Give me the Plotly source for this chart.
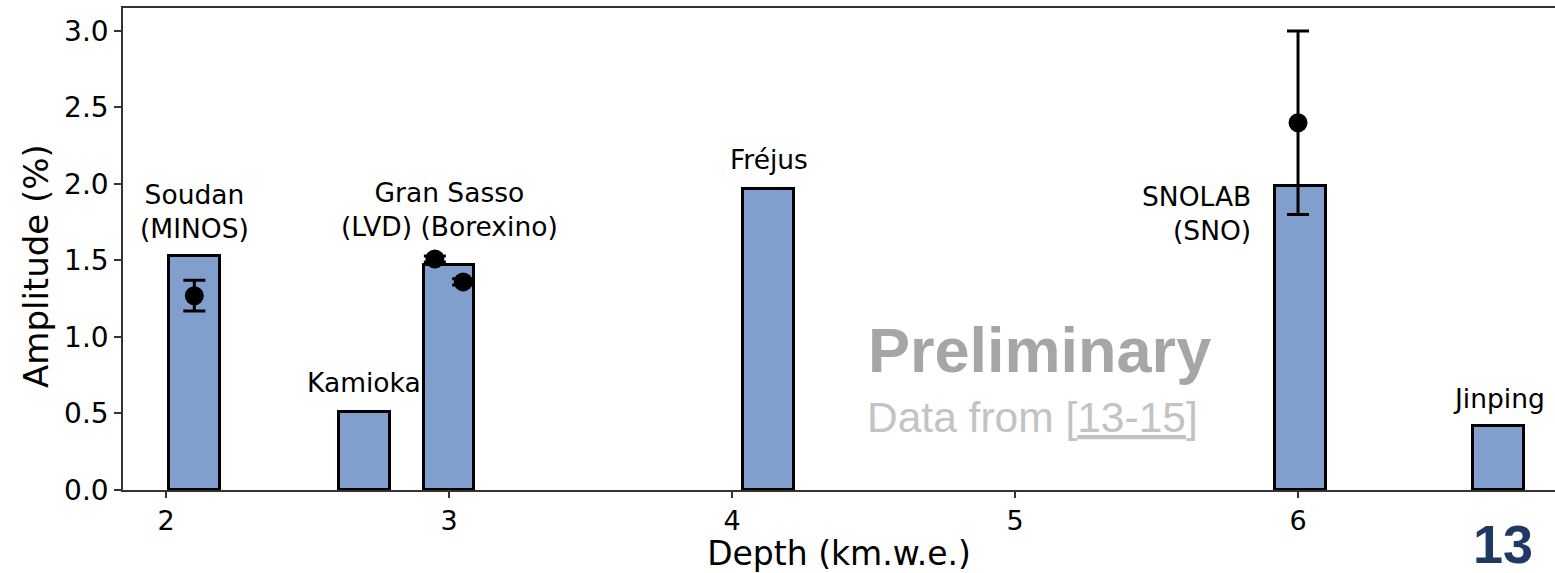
import plotly.graph_objects as go

# Bars: site depth (km.w.e.) and amplitude (%)
sites = ["Soudan", "Kamioka", "Gran Sasso", "Fréjus", "SNOLAB", "Jinping"]
site_depth = [2.10, 2.70, 3.00, 4.13, 6.01, 6.71]
site_amp = [1.53, 0.51, 1.47, 1.97, 1.99, 0.42]

# Measurements with error bars
meas_names = ["MINOS", "LVD", "Borexino", "SNO"]
meas_depth = [2.10, 2.95, 3.05, 6.00]
meas_amp = [1.27, 1.51, 1.36, 2.40]
meas_err = [0.10, 0.02, 0.02, 0.60]

x_ticks = [2, 3, 4, 5, 6]
y_ticks = [0.0, 0.5, 1.0, 1.5, 2.0, 2.5, 3.0]
y_tick_text = ["0.0", "0.5", "1.0", "1.5", "2.0", "2.5", "3.0"]

# Labels: text, anchor x, centre y
label_text = ["Soudan<br>(MINOS)", "Kamioka", "Gran Sasso<br>(LVD) (Borexino)",
              "Fréjus", "SNOLAB<br>(SNO)", "Jinping"]
label_x = [2.10, 2.70, 3.00, 4.13, 5.84, 6.71]
label_y = [1.82, 0.70, 1.83, 2.16, 1.81, 0.60]

FONT = "DejaVu Sans"

fig = go.Figure()
fig.add_trace(go.Bar(
    x=site_depth, y=site_amp, width=0.18,
    marker=dict(color="#819fcd", line=dict(color="black", width=3)),
    showlegend=False, hoverinfo="x+y",
))
fig.add_trace(go.Scatter(
    x=meas_depth, y=meas_amp, mode="markers",
    marker=dict(color="black", size=19),
    error_y=dict(type="data", array=meas_err, visible=True,
                 color="black", thickness=3, width=11),
    showlegend=False,
))

for i, (t, x, y) in enumerate(zip(label_text, label_x, label_y)):
    right = (i == 4)
    fig.add_annotation(x=x, y=y, text=t, showarrow=False,
                       xanchor="right" if right else "center",
                       yanchor="middle", align="right" if right else "center",
                       font=dict(family=FONT, size=26.5, color="black"))

W, H = 1555, 573
ml, mt, mb = 123, 8, 83
pw, ph = W - ml, H - mt - mb


def px(x, y):
    return (x - ml) / pw, (H - mb - y) / ph


def add_px_text(x, y, text, font, angle=0):
    xp, yp = px(x, y)
    fig.add_annotation(x=xp, y=yp, xref="paper", yref="paper", text=text,
                       showarrow=False, xanchor="center", yanchor="middle",
                       textangle=angle, font=font)


add_px_text(1039, 350, "<b>Preliminary</b>",
            dict(family="Liberation Sans", size=63, color="#a6a6a6"))
add_px_text(1032, 417, "Data from [<u>13-15</u>]",
            dict(family="Liberation Sans", size=42.5, color="#c3c3c3"))
add_px_text(1503, 544, "<b>13</b>",
            dict(family="Liberation Sans", size=54, color="#203864"))
add_px_text(36, 266, "Amplitude (%)", dict(family=FONT, size=34, color="black"), angle=-90)

fig.update_layout(
    width=W, height=H,
    margin=dict(l=ml, r=0, t=mt, b=mb, pad=0),
    plot_bgcolor="white", paper_bgcolor="white",
    font=dict(family=FONT, color="black"),
    xaxis=dict(range=[1.848, 6.908], tickvals=x_ticks, ticks="outside",
               ticklen=6, tickwidth=1.5, tickcolor="#333", showline=True,
               linecolor="#333", linewidth=1.5, mirror=True, showgrid=False,
               zeroline=False, tickfont=dict(size=27),
               title=dict(text="Depth (km.w.e.)", font=dict(size=33), standoff=7)),
    yaxis=dict(range=[0, 3.15], tickvals=y_ticks, ticktext=y_tick_text,
               ticks="outside", ticklen=7, tickwidth=1.5, tickcolor="#333",
               showline=True, linecolor="#333", linewidth=1.5, showgrid=False,
               zeroline=False, tickfont=dict(size=28)),
    bargap=0,
)

fig.write_html("out.html")
